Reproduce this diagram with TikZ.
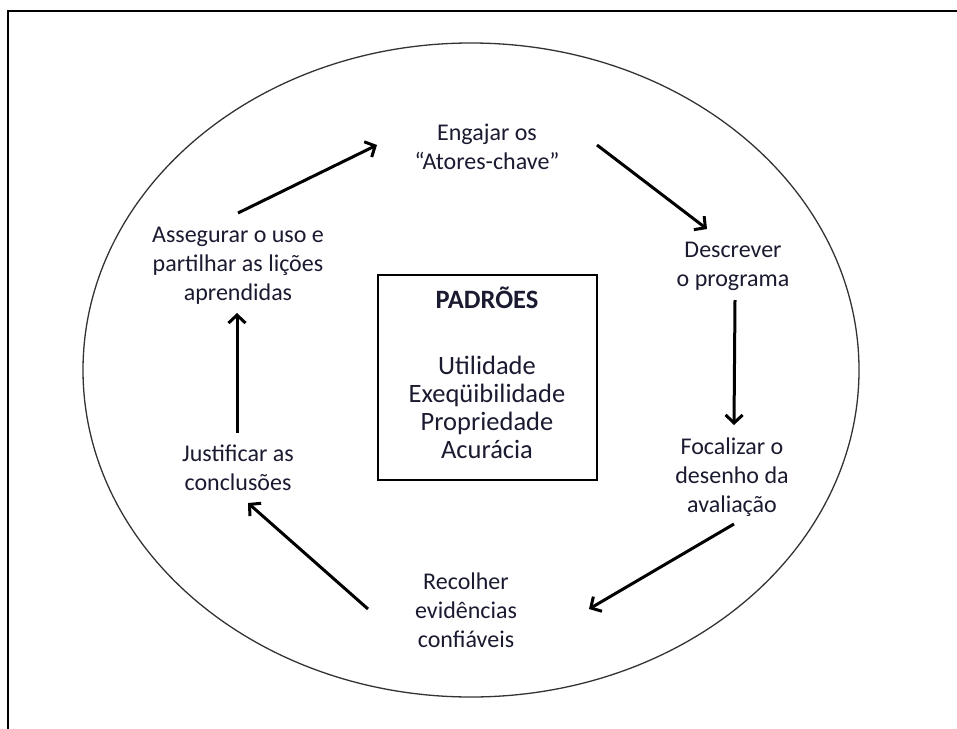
\documentclass[tikz,border=0pt]{standalone}
\usepackage{fontspec}
\setmainfont{Carlito}
\usetikzlibrary{arrows.meta,calc}
\definecolor{txt}{HTML}{1A1A30}
\definecolor{ell}{HTML}{333333}
\begin{document}
\begin{tikzpicture}[x=1pt,y=-1pt,
  lbl/.style={align=center,font=\fontsize{24}{29}\selectfont,text=txt,inner sep=0pt},
  arr/.style={line width=3pt,-{Straight Barb[length=8pt,width=17pt]}}]
\useasboundingbox (0,0) rectangle (957,728);
\clip (0,0) rectangle (957,728);
\draw[line width=2.5pt] (8,11) rectangle (990,760);
\draw[line width=1.3pt, ell] (471,370) ellipse [x radius=388pt, y radius=327pt];

\node[draw, line width=1.2pt, minimum width=219pt, minimum height=205pt, inner sep=0pt] (box) at (487.5,377.5) {};
\node[lbl, font=\fontsize{26.5}{28}\selectfont] (std) at (487,373) {\textbf{PADRÕES}\\[38pt]Utilidade\\Exeqüibilidade\\Propriedade\\Acurácia};

\node[lbl] (eng) at (487,147) {Engajar os\\“Atores-chave”};
\node[lbl] (desc) at (733,266) {Descrever\\o programa};
\node[lbl] (foc) at (732,477) {Focalizar o\\desenho da\\avaliação};
\node[lbl] (rec) at (466,610) {Recolher\\evidências\\confiáveis};
\node[lbl] (just) at (238,468) {Justificar as\\conclusões};
\node[lbl] (asseg) at (238,266) {Assegurar o uso e\\partilhar as lições\\aprendidas};

\draw[arr] ($(asseg)+(0,-53)$) -- ($(eng)+(-110,-2)$);
\draw[arr] ($(eng)+(110,-2)$) -- ($(desc)+(-26,-37)$);
\draw[arr] ($(desc)+(2,34)$) -- ($(foc)+(2,-52)$);
\draw[arr] ($(foc)+(2,47)$) -- ($(rec)+(123,-1)$);
\draw[arr] ($(rec)+(-98,-1)$) -- ($(just)+(10,35)$);
\draw[arr] ($(just)+(-1,-35)$) -- ($(asseg)+(-1,47)$);
\end{tikzpicture}
\end{document}
